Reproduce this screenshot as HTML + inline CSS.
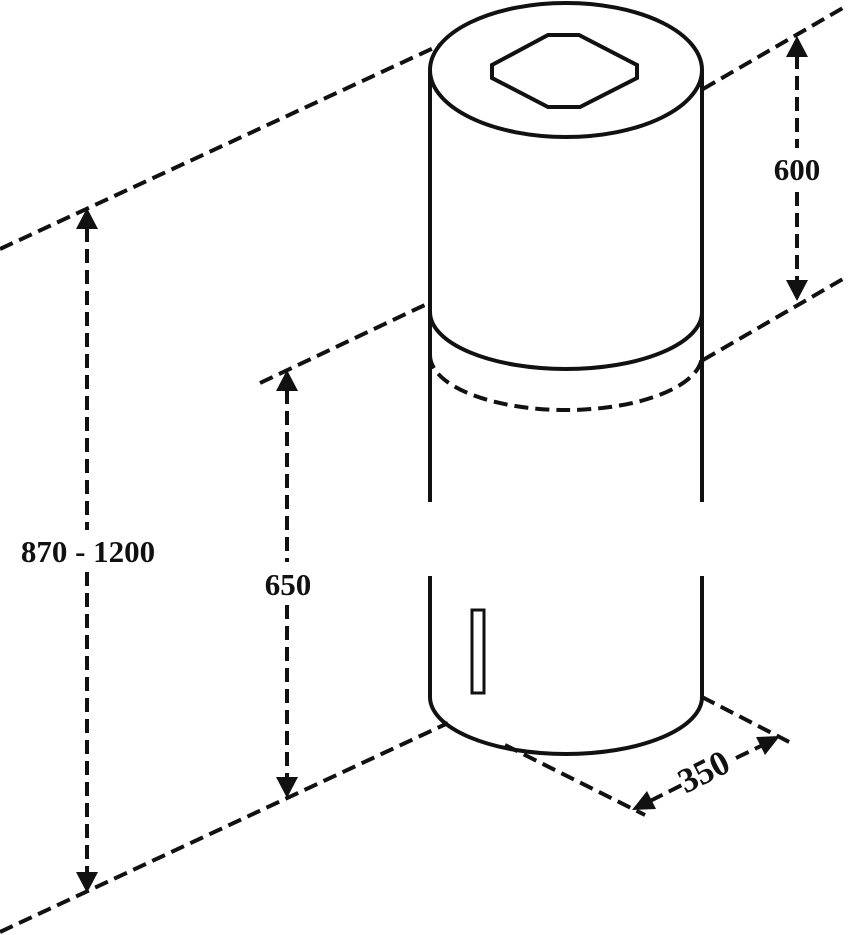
<!DOCTYPE html>
<html><head><style>html,body{margin:0;padding:0;background:#fff;}svg{display:block}</style></head>
<body>
<svg width="850" height="935" viewBox="0 0 850 935" xmlns="http://www.w3.org/2000/svg">
<g fill="none" stroke="#111" stroke-width="4" stroke-dasharray="14 7">
<line x1="0" y1="249" x2="440" y2="45"/>
<line x1="703" y1="89" x2="848" y2="5"/>
<line x1="260" y1="383" x2="429" y2="303"/>
<line x1="703" y1="360" x2="848" y2="276"/>
<line x1="0" y1="932" x2="448" y2="723"/>
<line x1="505" y1="745" x2="645" y2="815"/>
<line x1="702" y1="697" x2="795" y2="745"/>
<line x1="797" y1="55" x2="797" y2="148"/>
<line x1="797" y1="192" x2="797" y2="283"/>
<line x1="87" y1="228" x2="87" y2="530"/>
<line x1="87" y1="572" x2="87" y2="873"/>
<line x1="287" y1="390" x2="287" y2="562"/>
<line x1="287" y1="605" x2="287" y2="778"/>
<line x1="650" y1="801" x2="682" y2="785"/>
<line x1="736" y1="758" x2="765" y2="744"/>
<path d="M430 355 A136 55 0 0 0 702 355"/>
</g>
<g fill="#111">
<polygon points="797,36 786,57 808,57"/>
<polygon points="797,301 786,280 808,280"/>
<polygon points="87,208 76,229 98,229"/>
<polygon points="87,893 76,872 98,872"/>
<polygon points="287,370 276,391 298,391"/>
<polygon points="287,798 276,777 298,777"/>
<polygon points="632,810 656,809 647,791"/>
<polygon points="780,736 765,755 756,737"/>
</g>
<g fill="none" stroke="#111" stroke-width="4">
<ellipse cx="566" cy="70" rx="136" ry="67"/>
<polygon points="548,35 579,35 637,65 637,78 580,107 548,107 492,78 492,65"/>
<line x1="430" y1="70" x2="430" y2="502"/>
<line x1="702" y1="70" x2="702" y2="502"/>
<line x1="430" y1="576" x2="430" y2="697"/>
<line x1="702" y1="576" x2="702" y2="697"/>
<path d="M430 312 A136 57 0 0 0 702 312"/>
<path d="M430 697 A136 57 0 0 0 702 697"/>
<rect x="472" y="610" width="12" height="83" stroke-width="3"/>
</g>
<g font-family="'Liberation Serif',serif" font-weight="bold" font-size="31" fill="#111" text-anchor="middle">
<text x="797" y="180">600</text>
<text x="88" y="562">870 - 1200</text>
<text x="288" y="595">650</text>
<text x="0" y="0" font-size="35" transform="translate(709,782) rotate(-27)">350</text>
</g>
</svg>
</body></html>
